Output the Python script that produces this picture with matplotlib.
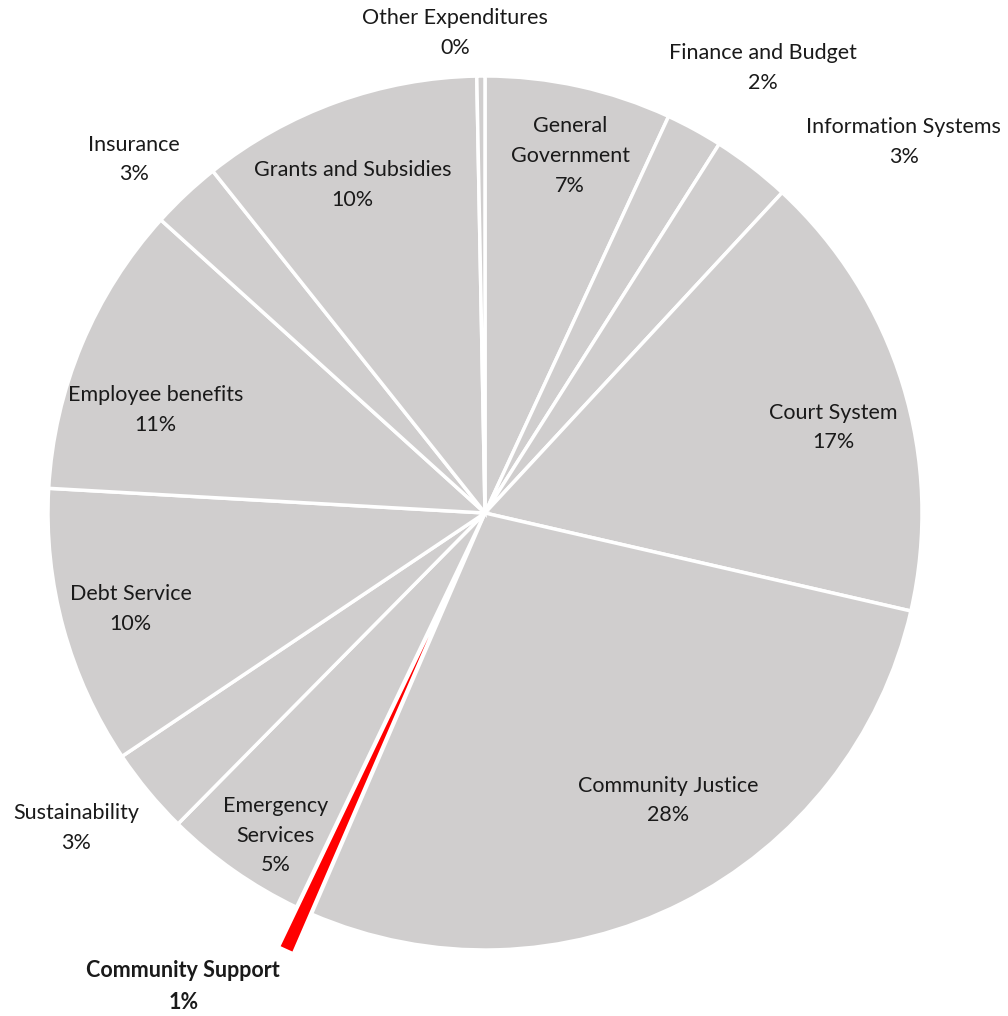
import matplotlib
matplotlib.use("Agg")
import matplotlib.pyplot as plt
import numpy as np

categories = ["General\nGovernment", "Finance and Budget", "Information Systems", "Court System",
              "Community Justice", "Community Support", "Emergency\nServices", "Sustainability",
              "Debt Service", "Employee benefits", "Insurance", "Grants and Subsidies",
              "Other Expenditures"]
shares = [6.9, 2.1, 2.9, 16.7, 27.9, 0.6, 5.3, 3.2, 10.3, 10.8, 2.6, 10.4, 0.3]
pct_labels = ["7%", "2%", "3%", "17%", "28%", "1%", "5%", "3%", "10%", "11%", "3%", "10%", "0%"]
highlight = "Community Support"

# label placement: angle (deg clockwise from top) and radius (fraction of pie radius)
label_ang = [13.4, 32.0, 48.5, 76.2, 147.5, 212.5, 213.0, 232.4, 254.8, 287.3, 315.2, 338.0, 356.4]
label_rad = [0.84, 1.20, 1.28, 0.82, 0.78, 1.285, 0.88, 1.18, 0.84, 0.79, 1.14, 0.81, 1.10]

grey = "#D0CECE"
colors = ["#FF0000" if c == highlight else grey for c in categories]
explode = [0.1 if c == highlight else 0 for c in categories]

fig = plt.figure(figsize=(10.08, 10.16), dpi=100)
ax = fig.add_axes([0, 0, 1, 1])
ax.pie(shares, colors=colors, explode=explode, startangle=90, counterclock=False,
       wedgeprops=dict(edgecolor="white", linewidth=2.5))

R = 437.0
ax.set_xlim(-485 / R, (1008 - 485) / R)
ax.set_ylim(-(1016 - 513) / R, 513 / R)
ax.axis("off")

for cat, pct, a, r in zip(categories, pct_labels, label_ang, label_rad):
    th = np.radians(a)
    x, y = r * np.sin(th), r * np.cos(th)
    bold = cat == highlight
    ax.text(x, y, f"{cat}\n{pct}", ha="center", va="center", fontsize=15.5,
            family=["Lato", "DejaVu Sans"], color="#1a1a1a",
            fontweight="bold" if bold else "normal", linespacing=1.62)

fig.savefig("out.png", dpi=100)
